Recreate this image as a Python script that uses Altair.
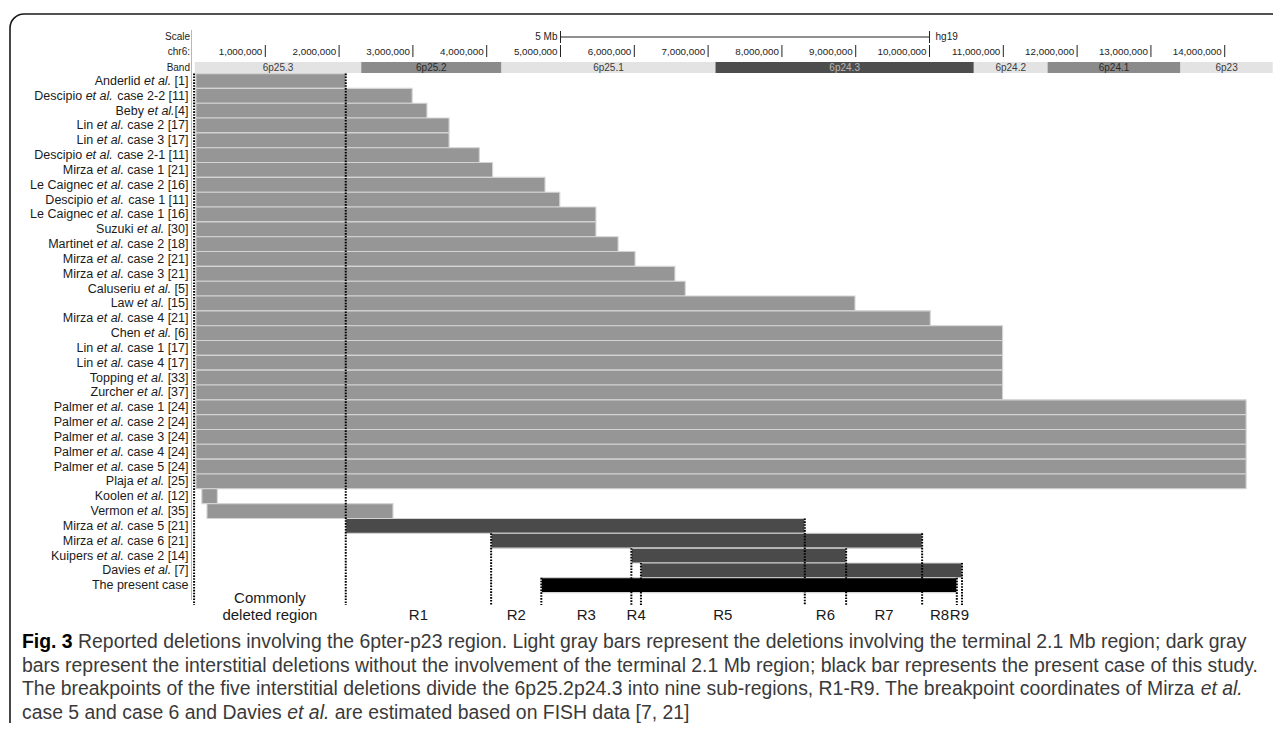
import altair as alt
import pandas as pd

# ---------------- data ----------------
labels = [
    "Anderlid et al. [1]", "Descipio et al. case 2-2 [11]", "Beby et al.[4]",
    "Lin et al. case 2 [17]", "Lin et al. case 3 [17]", "Descipio et al. case 2-1 [11]",
    "Mirza et al. case 1 [21]", "Le Caignec et al. case 2 [16]", "Descipio et al. case 1 [11]",
    "Le Caignec et al. case 1 [16]", "Suzuki et al. [30]", "Martinet et al. case 2 [18]",
    "Mirza et al. case 2 [21]", "Mirza et al. case 3 [21]", "Caluseriu et al. [5]",
    "Law et al. [15]", "Mirza et al. case 4 [21]", "Chen et al. [6]",
    "Lin et al. case 1 [17]", "Lin et al. case 4 [17]", "Topping et al. [33]",
    "Zurcher et al. [37]", "Palmer et al. case 1 [24]", "Palmer et al. case 2 [24]",
    "Palmer et al. case 3 [24]", "Palmer et al. case 4 [24]", "Palmer et al. case 5 [24]",
    "Plaja et al. [25]", "Koolen et al. [12]", "Vermon et al. [35]",
    "Mirza et al. case 5 [21]", "Mirza et al. case 6 [21]", "Kuipers et al. case 2 [14]",
    "Davies et al. [7]", "The present case",
]
# deletion coordinates (Mb, hg19)
del_start = [0.06, 0.06, 0.06, 0.06, 0.06, 0.06, 0.06, 0.06, 0.06, 0.06,
             0.06, 0.06, 0.06, 0.06, 0.06, 0.06, 0.06, 0.06, 0.06, 0.06,
             0.06, 0.06, 0.06, 0.06, 0.06, 0.06, 0.06, 0.06, 0.14, 0.21,
             2.09, 4.06, 5.96, 6.09, 4.74]
del_end = [2.09, 2.99, 3.19, 3.49, 3.49, 3.90, 4.08, 4.79, 4.99, 5.48,
           5.48, 5.78, 6.01, 6.55, 6.69, 8.99, 10.01, 10.99, 10.99, 10.99,
           10.99, 10.99, 14.29, 14.29, 14.29, 14.29, 14.29, 14.29, 0.35, 2.73,
           8.31, 9.90, 8.87, 10.44, 10.37]
del_kind = (["terminal"] * 30) + (["interstitial"] * 4) + ["present"]

# breakpoints (Mb) and the row where each dotted line begins
bp_pos = [0.035, 2.09, 4.06, 4.74, 5.96, 6.09, 8.31, 8.87, 9.90, 10.37, 10.44]
bp_row = [0, 0, 31, 34, 32, 33, 30, 32, 31, 34, 33]
region_names = ["Commonly\ndeleted region", "R1", "R2", "R3", "R4", "R5",
                "R6", "R7", "R8", "R9"]

band_names = ["6p25.3", "6p25.2", "6p25.1", "6p24.3", "6p24.2", "6p24.1", "6p23"]
band_start = [0.045, 2.3, 4.2, 7.1, 10.6, 11.6, 13.4]
band_end = [2.3, 4.2, 7.1, 10.6, 11.6, 13.4, 14.65]
band_stain = ["light", "medium", "light", "dark", "light", "medium", "light"]

tick_pos = [1, 2, 3, 4, 5, 6, 7, 8, 9, 10, 11, 12, 13, 14]
tick_labels = ["1,000,000", "2,000,000", "3,000,000", "4,000,000", "5,000,000",
               "6,000,000", "7,000,000", "8,000,000", "9,000,000", "10,000,000",
               "11,000,000", "12,000,000", "13,000,000", "14,000,000"]
scale_bar = [5.0, 10.0]
header_names = ["Scale", "chr6:", "Band"]

caption_lines = [
    [("Fig. 3", "bold"), (" Reported deletions involving the 6pter-p23 region. Light gray bars represent the deletions involving the terminal 2.1 Mb region; dark gray", "normal")],
    [("bars represent the interstitial deletions without the involvement of the terminal 2.1 Mb region; black bar represents the present case of this study.", "normal")],
    [("The breakpoints of the five interstitial deletions divide the 6p25.2p24.3 into nine sub-regions, R1-R9. The breakpoint coordinates of Mirza ", "normal"), ("et al.", "italic")],
    [("case 5 and case 6 and Davies ", "normal"), ("et al.", "italic"), (" are estimated based on FISH data [7, 21]", "normal")],
]

# ---------------- text metrics (Arial / Liberation Sans) ----------------
W = {}
for chars, w in [(" ,./:;I[]ft!", 278), ("ijl", 222), ("r-()", 333),
                 ("cksvxyzJ", 500), ("w", 722), ("mM", 833), ("W", 944),
                 ("0123456789abdeghnopquL", 556), ("ABEKPSVXY", 667),
                 ("CDHNRU", 722), ("FTZ", 611), ("GOQ", 778)]:
    for ch in chars:
        W[ch] = w
WB = dict(W)
WB.update({"F": 611, "i": 278, "g": 611, ".": 278, " ": 278, "3": 556})


def tw(s, size, bold=False):
    t = WB if bold else W
    return sum(t.get(c, 556) for c in s) * size / 1000.0


FONT = "Liberation Sans"
X = alt.Scale(domain=[0, 14.65], range=[183.5, 1264.7])
Y = alt.Scale(domain=[0, 34], range=[73, 577.2])

# ---------------- frame ----------------
one = pd.DataFrame({"k": [0]})
frame = alt.Chart(one).mark_rect(fillOpacity=0, stroke="#1a1a1a", strokeWidth=1.6,
                                 cornerRadius=14).encode(
    x=alt.value(2), x2=alt.value(1500), y=alt.value(6), y2=alt.value(1000))

red = alt.Chart(pd.DataFrame({"p": [0.0]})).mark_rule(color="#f0a0a0", strokeWidth=1).encode(
    x=alt.X("p:Q", scale=X, axis=None), y=alt.value(22), y2=alt.value(592))

# ---------------- header ----------------
bands = pd.DataFrame({"name": band_names, "s": band_start, "e": band_end, "stain": band_stain})
band_rect = alt.Chart(bands).mark_rect().encode(
    x=alt.X("s:Q", scale=X, axis=None), x2="e:Q",
    y=alt.value(54), y2=alt.value(65),
    color=alt.Color("stain:N", scale=alt.Scale(domain=["light", "medium", "dark"],
                                               range=["#e3e3e3", "#8b8b8b", "#4d4d4d"]), legend=None))
band_text = alt.Chart(bands).transform_calculate(mid="(datum.s + datum.e) / 2").mark_text(
    font=FONT, fontSize=10, baseline="middle").encode(
    x=alt.X("mid:Q", scale=X, axis=None), y=alt.value(59.5), text="name:N",
    color=alt.Color("stain:N", scale=alt.Scale(domain=["light", "medium", "dark"],
                                               range=["#3a3a3a", "#2a2a2a", "#b8b8b8"]), legend=None))

ticks = pd.DataFrame({"p": tick_pos, "lab": tick_labels})
tick_rule = alt.Chart(ticks).mark_rule(color="#222", strokeWidth=1).encode(
    x=alt.X("p:Q", scale=X, axis=None), y=alt.value(37), y2=alt.value(49))
tick_text = alt.Chart(ticks).mark_text(font=FONT, fontSize=9.8, align="right", dx=-3,
                                       baseline="middle", color="#222").encode(
    x=alt.X("p:Q", scale=X, axis=None), y=alt.value(44), text="lab:N")

sb = pd.DataFrame({"a": [scale_bar[0]], "b": [scale_bar[1]]})
sb_line = alt.Chart(sb).mark_rule(color="#222", strokeWidth=1).encode(
    x=alt.X("a:Q", scale=X, axis=None), x2="b:Q", y=alt.value(29))
sb_ends = alt.Chart(pd.DataFrame({"p": scale_bar})).mark_rule(color="#222", strokeWidth=1).encode(
    x=alt.X("p:Q", scale=X, axis=None), y=alt.value(23), y2=alt.value(35))
sb_left = alt.Chart(sb).mark_text(font=FONT, fontSize=10, align="right", dx=-3,
                                  baseline="middle", color="#222").encode(
    x=alt.X("a:Q", scale=X, axis=None), y=alt.value(29), text=alt.value("5 Mb"))
sb_right = alt.Chart(sb).mark_text(font=FONT, fontSize=10, align="left", dx=6,
                                   baseline="middle", color="#222").encode(
    x=alt.X("b:Q", scale=X, axis=None), y=alt.value(29), text=alt.value("hg19"))

hdr = pd.DataFrame({"t": header_names, "ypx": [29, 44, 59.5]})
hdr_text = alt.Chart(hdr).mark_text(font=FONT, fontSize=10, align="right",
                                    baseline="middle", color="#222").encode(
    x=alt.value(182), y=alt.Y("ypx:Q", scale=None, axis=None), text="t:N")

# ---------------- deletion bars ----------------
bars = pd.DataFrame({"row": list(range(len(labels))), "s": del_start, "e": del_end, "kind": del_kind})
bar_layer = alt.Chart(bars).transform_calculate(
    y0="datum.row - 0.5", y1="datum.row + 0.5").mark_rect(stroke="#d4d4d4", strokeWidth=1.1).encode(
    x=alt.X("s:Q", scale=X, axis=None), x2="e:Q",
    y=alt.Y("y0:Q", scale=Y, axis=None), y2="y1:Q",
    color=alt.Color("kind:N", scale=alt.Scale(domain=["terminal", "interstitial", "present"],
                                              range=["#969696", "#4a4a4a", "#000000"]), legend=None))

bp = pd.DataFrame({"p": bp_pos, "row": bp_row})
bp_layer = alt.Chart(bp).transform_calculate(top="datum.row - 0.5").mark_rule(
    color="#000", strokeWidth=2, strokeDash=[1.6, 1.3]).encode(
    x=alt.X("p:Q", scale=X, axis=None), y=alt.Y("top:Q", scale=Y, axis=None), y2=alt.value(597))

reg = pd.DataFrame({"name": region_names, "lo": bp_pos[:-1], "hi": bp_pos[1:]})
reg_first = alt.Chart(reg.iloc[:1]).transform_calculate(mid="(datum.lo + datum.hi) / 2").mark_text(
    font=FONT, fontSize=15, baseline="top", lineBreak="\n", lineHeight=16.5, color="#1a1a1a").encode(
    x=alt.X("mid:Q", scale=X, axis=None), y=alt.value(583), text="name:N")
reg_rest = alt.Chart(reg.iloc[1:]).transform_calculate(mid="(datum.lo + datum.hi) / 2").mark_text(
    font=FONT, fontSize=15, baseline="alphabetic", color="#1a1a1a").encode(
    x=alt.X("mid:Q", scale=X, axis=None), y=alt.value(612), text="name:N")

# ---------------- row labels with italic "et al." ----------------
LS = 12.5
R = 180.5
rows = []
for i, lab in enumerate(labels):
    if "et al." in lab:
        pre, post = lab.split("et al.")
        ital = "et al."
    else:
        pre, post, ital = "", lab, ""
    x_suf = R
    x_ital = R - tw(post, LS)
    x_pre = x_ital - tw(ital, LS) - (tw(pre, LS) - tw(pre.rstrip(), LS))
    rows.append({"row": i, "pre": pre.strip(), "ital": ital, "suf": post.strip(),
                 "xp": x_pre, "xi": x_ital, "xs": x_suf})
rl = pd.DataFrame(rows)


def row_text(field, xfield, style):
    return alt.Chart(rl).mark_text(font=FONT, fontSize=LS, align="right", baseline="middle",
                                   fontStyle=style, color="#1a1a1a").encode(
        x=alt.X(xfield + ":Q", scale=None, axis=None),
        y=alt.Y("row:Q", scale=Y, axis=None), text=field + ":N")


lab_pre = row_text("pre", "xp", "normal")
lab_ital = row_text("ital", "xi", "italic")
lab_suf = row_text("suf", "xs", "normal")

# ---------------- caption ----------------
line_w = [sum(tw(s, 1000, st == "bold") for s, st in ln) / 1000.0 for ln in caption_lines]
CS = 1238.0 / max(line_w)
segs = []
for li, line in enumerate(caption_lines):
    cur = 14.0
    for s, st in line:
        lead = len(s) - len(s.lstrip())
        segs.append({"t": s.strip(), "st": st, "x": cur + tw(s[:lead], CS),
                     "y": 634 + 23.6 * li})
        cur += tw(s, CS, st == "bold")
cap = pd.DataFrame(segs)


def cap_text(style):
    kw = {"fontWeight": "bold", "color": "#000"} if style == "bold" else {"color": "#3a3a3a"}
    if style == "italic":
        kw["fontStyle"] = "italic"
    return alt.Chart(cap).transform_filter(alt.datum.st == style).mark_text(
        font=FONT, fontSize=CS, align="left", baseline="middle", **kw).encode(
        x=alt.X("x:Q", scale=None, axis=None), y=alt.Y("y:Q", scale=None, axis=None), text="t:N")


chart = alt.layer(
    frame, red, band_rect, band_text, tick_rule, tick_text, sb_line, sb_ends, sb_left, sb_right,
    hdr_text, bar_layer, bp_layer, reg_first, reg_rest, lab_pre, lab_ital, lab_suf,
    cap_text("normal"), cap_text("bold"), cap_text("italic"),
).resolve_scale(x="independent", y="independent", color="independent").properties(
    width=1265, height=715, autosize=alt.AutoSizeParams(type="none"), padding=0,
    background="white",
).configure_view(strokeWidth=0)

chart.save("out.html", embed_options={"renderer": "svg", "actions": False})
